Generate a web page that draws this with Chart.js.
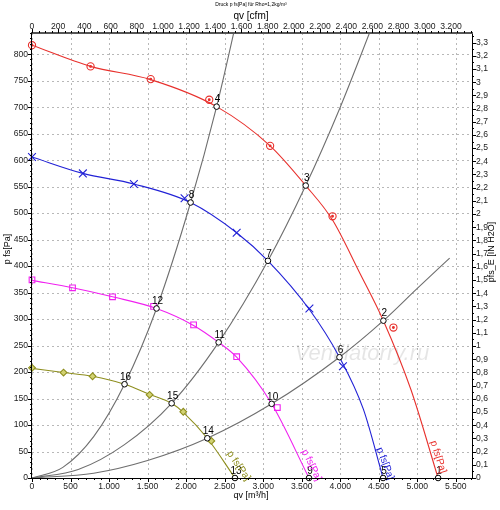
<!DOCTYPE html>
<html>
<head>
<meta charset="utf-8">
<script src="https://cdn.jsdelivr.net/npm/chart.js@4.4.1/dist/chart.umd.min.js"></script>
<style>
  html, body { margin: 0; padding: 0; background: #fff; }
  canvas { display: block; }
</style>
</head>
<body>
<canvas id="chart" width="500" height="510"></canvas>
<script>
const FONT = "'Liberation Sans', Arial, sans-serif";
const M3H_PER_CFM = 1.699;
const PA_PER_INH2O = 249.089;
const Q_MAX = 5710;
const P_MAX = 840;

/* ================= DATA ================= */

// tick values
const qTicks = [0, 500, 1000, 1500, 2000, 2500, 3000, 3500, 4000, 4500, 5000, 5500];
const cfmTicks = [0, 200, 400, 600, 800, 1000, 1200, 1400, 1600, 1800, 2000, 2200, 2400, 2600, 2800, 3000, 3200];
const pTicks = [0, 50, 100, 150, 200, 250, 300, 350, 400, 450, 500, 550, 600, 650, 700, 750, 800];
const inTicks = [0, 0.1, 0.2, 0.3, 0.4, 0.5, 0.6, 0.7, 0.8, 0.9, 1, 1.1, 1.2, 1.3, 1.4, 1.5, 1.6,
  1.7, 1.8, 1.9, 2, 2.1, 2.2, 2.3, 2.4, 2.5, 2.6, 2.7, 2.8, 2.9, 3, 3.1, 3.2, 3.3];

// fan curves p fs [Pa] over qv [m³/h]
const redQ = [0, 760, 1540, 2396, 3090, 3552, 3900, 4250, 4560, 4917, 5270];
const redP = [817, 777, 752, 701, 627, 552, 487, 388, 297, 167, 0];
const blueQ = [0, 660, 1322, 2058, 2656, 3062, 3600, 3990, 4300, 4556];
const blueP = [606, 575, 555, 520, 463, 410, 318, 228, 130, 0];
const pinkQ = [0, 526, 1045, 1616, 2097, 2422, 2656, 3110, 3595];
const pinkP = [373, 359, 342, 320, 288, 256, 228, 140, 0];
const oliveQ = [0, 409, 786, 1201, 1526, 1812, 1963, 2275, 2634];
const oliveP = [207, 199, 192, 177, 158, 141, 124, 75, 0];

// measured points
const redMarkQ = [0, 760, 1540, 2300, 3090, 3900, 4690];
const redMarkP = [817, 777, 753, 714, 627, 494, 284];
const blueMarkQ = [0, 660, 1322, 1980, 2656, 3600, 4035];
const blueMarkP = [606, 575, 555, 528, 463, 320, 211];
const pinkMarkQ = [0, 526, 1045, 1578, 2097, 2656, 3184];
const pinkMarkP = [374, 359, 342, 324, 289, 229, 133];
const oliveMarkQ = [0, 409, 786, 1526, 1963, 2327];
const oliveMarkP = [208, 199, 192, 157, 125, 70];

// system curves
const sysAQ = [0, 400, 800, 1201, 1616, 2058, 2396, 2700];
const sysAP = [0, 20, 78, 177, 320, 520, 701, 893];
const sysBQ = [0, 600, 1200, 1812, 2422, 3062, 3552, 4000, 4420];
const sysBP = [0, 16, 63, 141, 256, 410, 552, 700, 855];
const sysCQ = [0, 800, 1500, 2275, 3110, 3990, 4560, 5000, 5420];
const sysCP = [0, 9, 33, 75, 140, 228, 297, 358, 415];

// operating points
const opNames = ["1", "2", "3", "4", "5", "6", "7", "8", "9", "10", "11", "12", "13", "14", "15", "16"];
const opQ = [5270, 4560, 3552, 2396, 4556, 3990, 3062, 2058, 3595, 3110, 2422, 1616, 2634, 2275, 1812, 1201];
const opP = [0, 297, 552, 701, 0, 228, 410, 520, 0, 140, 256, 320, 0, 75, 141, 177];

// curve name labels (anchor in qv / p)
const curveName = "p fs[Pa]";
const nameQ = [5204, 4503, 3530, 2556];
const nameP = [70, 57, 53, 49];

/* ================= HELPERS ================= */

const RED = "#e8302c", BLUE = "#2121d6", PINK = "#f020f0", OLIVE = "#8e8e1e", GRAY = "#6e6e6e";

const pts = (qs, ps) => qs.map((q, i) => ({ x: q, y: ps[i] }));
const dots = (vals) => (scale) => { scale.ticks = vals.map(v => ({ value: v })); };
const thousands = (v) => String(v).replace(/\B(?=(\d{3})+(?!\d))/g, ".");

function curve(qs, ps, color, order) {
  return {
    type: "line", data: pts(qs, ps), borderColor: color, borderWidth: 1.1,
    pointRadius: 0, cubicInterpolationMode: "monotone", fill: false, order: order
  };
}

function marks(qs, ps, style, color, radius, fill) {
  return {
    type: "scatter", data: pts(qs, ps), showLine: false, pointStyle: style,
    pointRadius: radius, borderColor: color, backgroundColor: fill,
    pointBorderWidth: 1.1, clip: false, order: 1
  };
}

const tickFont = { family: FONT, size: 8.6 };

/* ================= DECORATION ================= */

const decor = {
  id: "decor",
  beforeDatasetsDraw(chart) {
    const { ctx, chartArea: a, scales } = chart;
    ctx.save();
    // grid
    ctx.strokeStyle = "#b8b8b8";
    ctx.lineWidth = 1;
    ctx.setLineDash([2, 3]);
    qTicks.forEach(v => {
      const x = Math.round(scales.x.getPixelForValue(v)) + 0.5;
      ctx.beginPath(); ctx.moveTo(x, a.top); ctx.lineTo(x, a.bottom); ctx.stroke();
    });
    pTicks.forEach(v => {
      const y = Math.round(scales.y.getPixelForValue(v)) + 0.5;
      ctx.beginPath(); ctx.moveTo(a.left, y); ctx.lineTo(a.right, y); ctx.stroke();
    });
    ctx.setLineDash([]);
    // watermark
    ctx.font = "italic 22px " + FONT;
    ctx.fillStyle = "rgba(0,0,0,0.1)";
    ctx.textAlign = "center";
    ctx.textBaseline = "middle";
    ctx.fillText("Ventilatorry.ru", 362, 354);
    ctx.restore();
  },
  afterDatasetsDraw(chart) {
    const { ctx, scales } = chart;
    ctx.save();
    ctx.fillStyle = "#000";
    ctx.font = "10px " + FONT;
    ctx.textAlign = "center";
    ctx.textBaseline = "bottom";
    opNames.forEach((name, i) => {
      const x = scales.x.getPixelForValue(opQ[i]);
      const y = scales.y.getPixelForValue(opP[i]);
      ctx.fillText(name, x + 1, y - 2);
    });
    const colors = [RED, BLUE, PINK, OLIVE];
    const angles = [72, 69, 64, 55];
    ctx.font = "10px " + FONT;
    ctx.textAlign = "left";
    ctx.textBaseline = "middle";
    nameQ.forEach((q, i) => {
      ctx.save();
      ctx.translate(scales.x.getPixelForValue(q), scales.y.getPixelForValue(nameP[i]));
      ctx.rotate(angles[i] * Math.PI / 180);
      ctx.fillStyle = colors[i];
      ctx.fillText(curveName, 0, 0);
      ctx.restore();
    });
    ctx.restore();
  },
  afterDraw(chart) {
    const { ctx, chartArea: a, scales } = chart;
    ctx.save();
    // frame
    ctx.strokeStyle = "#000";
    ctx.lineWidth = 1;
    ctx.beginPath();
    ctx.moveTo(a.left - 0.5, a.top); ctx.lineTo(a.left - 0.5, a.bottom + 0.5);
    ctx.lineTo(a.right + 0.5, a.bottom + 0.5); ctx.lineTo(a.right + 0.5, a.top);
    ctx.stroke();
    ctx.strokeStyle = "#555";
    ctx.lineWidth = 2;
    ctx.beginPath(); ctx.moveTo(a.left - 1, a.top); ctx.lineTo(a.right + 1, a.top); ctx.stroke();

    // minor + major tick marks
    ctx.strokeStyle = "#000";
    ctx.lineWidth = 1;
    const line = (x1, y1, x2, y2) => { ctx.beginPath(); ctx.moveTo(x1, y1); ctx.lineTo(x2, y2); ctx.stroke(); };
    for (let i = 0; i * 100 <= Q_MAX; i++) {
      const x = Math.round(scales.x.getPixelForValue(i * 100)) + 0.5;
      line(x, a.bottom, x, a.bottom + (i % 5 === 0 ? 4 : 2));
    }
    for (let i = 0; i * 50 <= Q_MAX / M3H_PER_CFM; i++) {
      const x = Math.round(scales.x2.getPixelForValue(i * 50)) + 0.5;
      line(x, a.top, x, a.top - (i % 4 === 0 ? 4 : 2));
    }
    for (let i = 0; i * 10 <= P_MAX; i++) {
      const y = Math.round(scales.y.getPixelForValue(i * 10)) + 0.5;
      line(a.left, y, a.left - (i % 5 === 0 ? 4 : 2), y);
    }
    for (let i = 0; i * 0.05 <= P_MAX / PA_PER_INH2O; i++) {
      const y = Math.round(scales.y2.getPixelForValue(i * 0.05)) + 0.5;
      line(a.right, y, a.right + (i % 2 === 0 ? 4 : 2), y);
    }

    // titles
    ctx.fillStyle = "#000";
    ctx.textAlign = "center";
    ctx.textBaseline = "middle";
    ctx.font = "5px " + FONT;
    ctx.fillText("Druck p fs[Pa] für Rho=1,2kg/m³", 251, 5);
    ctx.font = "10px " + FONT;
    ctx.fillText("qv [cfm]", 251, 16);
    ctx.font = "9px " + FONT;
    ctx.fillText("qv [m³/h]", 251, 496);
    ctx.save();
    ctx.translate(8, 249);
    ctx.rotate(-Math.PI / 2);
    ctx.fillText("p fs[Pa]", 0, 0);
    ctx.restore();
    ctx.save();
    ctx.translate(492, 252);
    ctx.rotate(-Math.PI / 2);
    ctx.fillText("pfs_E [IN H2O]", 0, 0);
    ctx.restore();
    ctx.restore();
  }
};

/* ================= CHART ================= */

new Chart(document.getElementById("chart"), {
  type: "scatter",
  data: {
    datasets: [
      {
        type: "scatter", data: pts(opQ, opP), pointStyle: "circle", pointRadius: 2.8,
        borderColor: "#000", backgroundColor: "#fff", pointBorderWidth: 1, clip: false, order: 0
      },
      marks(redMarkQ, redMarkP, "circle", RED, 3.6, "rgba(0,0,0,0)"),
      marks(redMarkQ, redMarkP, "circle", RED, 0.9, RED),
      marks(blueMarkQ, blueMarkP, "crossRot", BLUE, 5.5, BLUE),
      marks(pinkMarkQ, pinkMarkP, "rect", PINK, 4, "rgba(0,0,0,0)"),
      marks(oliveMarkQ, oliveMarkP, "rectRot", OLIVE, 3.4, "#d2d272"),
      curve(redQ, redP, RED, 2),
      curve(blueQ, blueP, BLUE, 2),
      curve(pinkQ, pinkP, PINK, 2),
      curve(oliveQ, oliveP, OLIVE, 2),
      curve(sysAQ, sysAP, GRAY, 3),
      curve(sysBQ, sysBP, GRAY, 3),
      curve(sysCQ, sysCP, GRAY, 3)
    ]
  },
  options: {
    responsive: false,
    animation: false,
    devicePixelRatio: 1,
    layout: { padding: 0 },
    plugins: { legend: { display: false }, tooltip: { enabled: false }, title: { display: false } },
    scales: {
      x: {
        type: "linear", position: "bottom", min: 0, max: Q_MAX,
        afterFit: s => { s.height = 32; },
        afterBuildTicks: dots(qTicks),
        grid: { display: false, drawTicks: false },
        border: { display: false },
        ticks: { font: tickFont, color: "#222", padding: 3, maxRotation: 0, autoSkip: false, callback: v => thousands(v) }
      },
      x2: {
        type: "linear", position: "top", min: 0, max: Q_MAX / M3H_PER_CFM,
        afterFit: s => { s.height = 33; },
        afterBuildTicks: dots(cfmTicks),
        grid: { display: false, drawTicks: false },
        border: { display: false },
        ticks: { font: tickFont, color: "#222", padding: 1, maxRotation: 0, autoSkip: false, callback: v => thousands(v) }
      },
      y: {
        type: "linear", position: "left", min: 0, max: P_MAX,
        afterFit: s => { s.width = 32; },
        afterBuildTicks: dots(pTicks),
        grid: { display: false, drawTicks: false },
        border: { display: false },
        ticks: { font: tickFont, color: "#222", padding: 4, autoSkip: false }
      },
      y2: {
        type: "linear", position: "right", min: 0, max: P_MAX / PA_PER_INH2O,
        afterFit: s => { s.width = 28; },
        afterBuildTicks: dots(inTicks),
        grid: { display: false, drawTicks: false },
        border: { display: false },
        ticks: { font: tickFont, color: "#222", padding: 4, autoSkip: false, callback: v => String(Math.round(v * 10) / 10).replace(".", ",") }
      }
    }
  },
  plugins: [decor]
});
</script>
</body>
</html>
